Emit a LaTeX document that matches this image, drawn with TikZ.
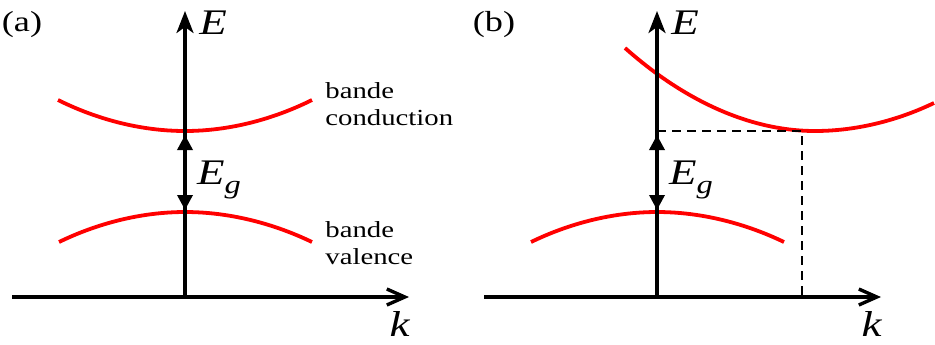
\documentclass[tikz,border=0pt]{standalone}
\usepackage{fontspec}
\setmainfont{Liberation Serif}[FakeStretch=1.25]
\usetikzlibrary{arrows.meta}
\definecolor{bandred}{RGB}{255,0,0}
\tikzset{
  band/.style={draw=bandred,line width=1.9pt},
  axisE/.style={-{Stealth[length=11pt,width=8.5pt,inset=3pt]},line width=1.7pt},
  axisk/.style={-{Straight Barb[length=9pt,width=8pt]},line width=1.7pt},
  egap/.style={{Triangle[length=7.5pt,width=7.5pt]}-{Triangle[length=7.5pt,width=7.5pt]},
               line width=1.7pt,shorten <=2pt,shorten >=1pt},
  guide/.style={dash pattern=on 4.5pt off 3pt,line width=0.9pt},
  mlbl/.style={font=\fontsize{18}{20}\selectfont,inner sep=0pt},
  txt/.style={font=\fontsize{11.5}{13.5}\selectfont,align=left,inner sep=0pt,anchor=west},
  tag/.style={font=\fontsize{14.5}{16}\selectfont,inner sep=0pt},
}
\newcommand{\gapsym}{\textit{E}\raisebox{-4.5pt}{\fontsize{13}{14}\selectfont\textit{g}}}

\begin{document}
\begin{tikzpicture}[x=0.5pt,y=-0.5pt]
\useasboundingbox (0,0) rectangle (935,344);

\def\dx{472}

% ------------------------------------------------ conduction bands
\draw[band] (58,100) parabola bend (185,131) (312,100);
\draw[band] (625,48) parabola bend (815,131) (934,103);

% ------------------------------------------------ both panels : axes, valence band, gap
\foreach \p/\s in {a/0,b/1}{
  \begin{scope}[xshift=\s*\dx*0.5pt]
    \draw[band] (59,242) parabola bend (185,212) (312,242);
    \coordinate (O\p) at (185,297);
    \coordinate (k0\p) at (12,297);
    \coordinate (k1\p) at (409,297);
    \coordinate (Etop\p) at (185,11);
    \coordinate (cb\p) at (185,131);
    \coordinate (vb\p) at (185,212);
    \draw[axisk] (k0\p) -- (k1\p);
    \draw[axisE] (O\p) -- (Etop\p);
    \draw[egap] (cb\p) -- (vb\p);
    \node[mlbl] (E\p) at (213,23) {\textit{E}};
    \node[mlbl] (k\p) at (400,324) {\textit{k}};
    \node[mlbl] (Eg\p) at (219,180) {\gapsym};
    \node[tag] (tag\p) at (22,25) {(\p)};
  \end{scope}
}

% ------------------------------------------------ panel (a) : labels
\node[txt] (cond) at (325,104) {bande\\conduction};
\node[txt] (val) at (325,243) {bande\\valence};

% ------------------------------------------------ panel (b) : indirect gap
\coordinate (cmin) at (802,131);
\draw[guide] (cbb) -- (cmin) -- (cmin |- Ob);

\end{tikzpicture}
\end{document}
